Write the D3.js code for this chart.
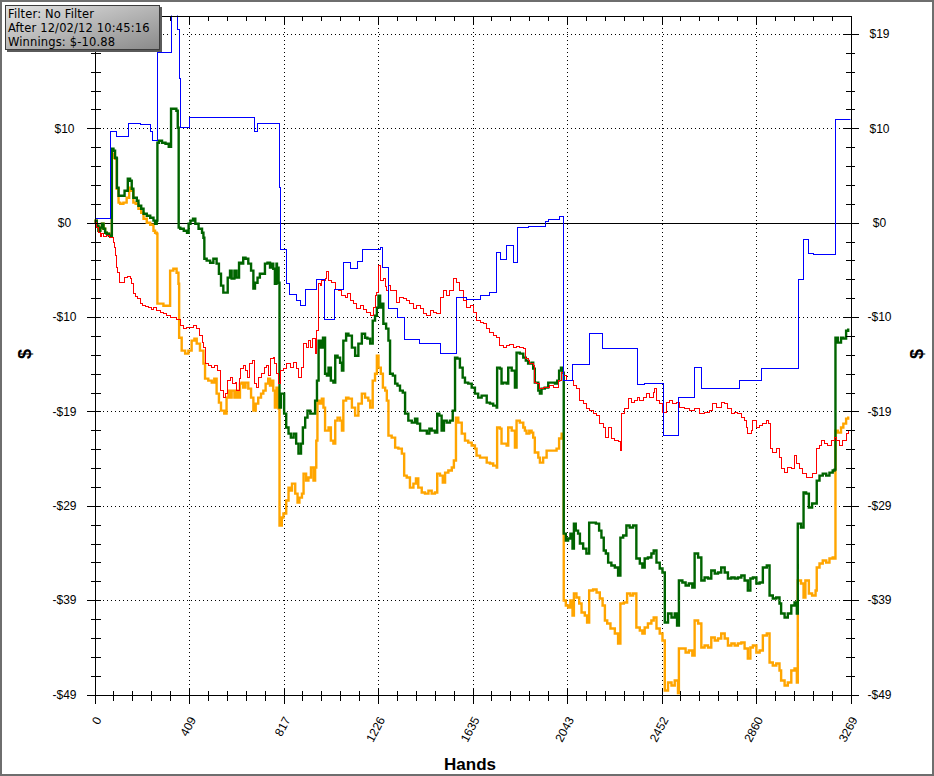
<!DOCTYPE html>
<html><head><meta charset="utf-8">
<script src="https://cdn.jsdelivr.net/npm/d3@7"></script>
<style>body{margin:0;background:#fff}svg{display:block}</style>
</head><body><svg id="c" width="934" height="776"></svg>
<script>
// ---------- DATA ----------
const xTickLabels = ["0","409","817","1226","1635","2043","2452","2860","3269"];
const yTickValues = [19.4, 9.7, 0, -9.7, -19.4, -29.1, -38.8, -48.5];
const yTickLabels = ["$19","$10","$0","-$10","-$19","-$29","-$39","-$49"];
const legendLines = ["Filter: No Filter","After 12/02/12 10:45:16","Winnings: $-10.88"];
const xTitle = "Hands";
const yTitle = "$";

// blue: showdown winnings  [hand, $]
const showdown = [[0,0.41],[69,9.35],[95,8.83],[147,10.17],[199,10.07],[242,9.35],[250,8.43],[272,17.47],[332,25],[358,19.83],[367,14.8],[371,9.76],[410,10.79],[691,9.35],[704,10.17],[799,3.6],[806,-2.77],[829,-6.27],[843,-7.40],[872,-8.01],[890,-8.53],[912,-6.88],[959,-5.86],[993,-9.97],[1036,-6.88],[1075,-4.11],[1108,-4.73],[1137,-4.01],[1157,-2.77],[1238,-2.57],[1247,-4.62],[1273,-8.84],[1310,-9.76],[1339,-12.02],[1405,-12.43],[1497,-13.46],[1566,-7.71],[1609,-7.91],[1667,-7.50],[1710,-7.19],[1739,-3.08],[1756,-3.80],[1782,-2.36],[1811,-4.11],[1828,-0.51],[1875,-0.41],[1952,0.10],[1962,0.31],[2012,0.62],[2029,-16.23],[2067,-14.59],[2139,-11.41],[2197,-12.95],[2346,-16.65],[2379,-16.54],[2461,-21.89],[2526,-17.98],[2595,-14.90],[2624,-17.06],[2789,-16.23],[2883,-15.00],[3045,-5.86],[3067,-1.75],[3087,-3.19],[3109,-3.29],[3204,10.58],[3269,10.58]];

// red: non-showdown winnings
const nonShowdown = [[0,0],[3,0.03],[9,-0.51],[17,-1.03],[25,-1.44],[30,-1.13],[39,-1.44],[52,-1.34],[63,-1.54],[73,-1.54],[82,-2.06],[86,-2.57],[92,-3.39],[96,-4.62],[101,-5.14],[107,-6.17],[117,-6.17],[130,-5.65],[144,-5.55],[154,-5.75],[161,-6.27],[168,-7.30],[176,-7.60],[187,-7.81],[197,-8.32],[207,-8.53],[219,-8.63],[233,-8.73],[245,-8.94],[255,-8.73],[269,-9.04],[284,-9.25],[298,-9.35],[312,-9.56],[327,-9.76],[341,-9.76],[355,-9.97],[370,-10.58],[384,-10.89],[399,-10.79],[413,-10.79],[427,-10.58],[442,-10.89],[456,-11.61],[466,-12.33],[471,-12.84],[478,-14.49],[492,-14.69],[507,-14.90],[521,-14.69],[532,-15.21],[543,-17.26],[557,-17.98],[567,-17.57],[576,-16.23],[586,-15.93],[596,-16.54],[608,-16.44],[614,-17.26],[625,-16.03],[633,-15.00],[643,-14.69],[651,-15.21],[662,-15.93],[672,-14.49],[682,-14.18],[694,-16.54],[701,-16.95],[711,-15.93],[722,-15.52],[734,-14.90],[744,-14.69],[751,-15.72],[763,-13.97],[773,-13.87],[780,-14.49],[789,-15.52],[796,-16.54],[806,-15.21],[817,-15.00],[832,-14.49],[846,-14.90],[861,-14.39],[872,-15.00],[882,-15.93],[893,-14.90],[904,-12.43],[915,-12.84],[925,-12.12],[936,-12.84],[944,-11.92],[954,-13.46],[962,-11.10],[969,-6.27],[976,-6.47],[983,-5.96],[997,-5.75],[1005,-5.03],[1012,-5.96],[1026,-6.17],[1041,-6.88],[1055,-6.99],[1070,-7.50],[1084,-7.71],[1094,-7.30],[1105,-8.01],[1120,-8.32],[1134,-8.84],[1149,-8.53],[1163,-8.94],[1178,-9.25],[1192,-9.56],[1206,-8.73],[1213,-7.50],[1221,-7.19],[1228,-4.42],[1235,-5.96],[1249,-5.75],[1257,-6.58],[1264,-6.99],[1271,-6.47],[1278,-6.99],[1292,-6.99],[1307,-8.22],[1321,-7.71],[1336,-7.81],[1350,-8.01],[1364,-8.32],[1379,-8.84],[1393,-8.53],[1408,-8.84],[1422,-9.35],[1437,-9.56],[1451,-9.04],[1465,-9.25],[1480,-9.35],[1494,-7.71],[1508,-6.99],[1523,-7.50],[1537,-6.99],[1551,-5.75],[1566,-6.17],[1580,-6.99],[1595,-8.01],[1609,-8.73],[1624,-8.53],[1638,-9.25],[1652,-10.07],[1667,-10.28],[1681,-10.38],[1696,-10.89],[1710,-11.30],[1724,-11.61],[1739,-11.82],[1753,-12.64],[1767,-12.84],[1782,-12.64],[1796,-12.54],[1811,-12.84],[1825,-12.74],[1839,-12.84],[1854,-12.95],[1865,-13.97],[1875,-14.18],[1883,-14.49],[1897,-14.69],[1904,-16.44],[1912,-16.54],[1926,-17.06],[1940,-16.95],[1955,-16.95],[1969,-16.75],[1983,-16.95],[1998,-16.95],[2005,-16.23],[2020,-15.41],[2029,-15.72],[2041,-16.23],[2063,-16.23],[2070,-16.75],[2084,-17.06],[2099,-18.29],[2113,-18.60],[2127,-19.11],[2142,-19.32],[2156,-19.63],[2171,-19.83],[2185,-20.65],[2199,-21.06],[2211,-22.09],[2221,-21.06],[2235,-22.19],[2250,-22.40],[2264,-22.50],[2274,-23.43],[2280,-19.63],[2293,-19.11],[2307,-18.08],[2322,-18.50],[2336,-18.29],[2346,-17.98],[2358,-18.29],[2372,-17.98],[2387,-17.57],[2401,-17.98],[2415,-17.47],[2422,-17.06],[2430,-18.29],[2444,-18.60],[2458,-19.52],[2473,-18.50],[2487,-18.29],[2501,-18.60],[2516,-18.50],[2530,-19.01],[2552,-19.11],[2574,-19.32],[2595,-19.11],[2617,-19.63],[2638,-19.52],[2660,-19.32],[2674,-18.60],[2689,-19.01],[2710,-18.50],[2725,-18.60],[2739,-19.11],[2754,-19.63],[2768,-19.52],[2782,-19.63],[2797,-20.04],[2811,-20.35],[2818,-21.06],[2825,-21.68],[2840,-21.37],[2847,-20.35],[2862,-21.06],[2876,-20.86],[2890,-20.65],[2905,-20.35],[2916,-20.65],[2922,-23.22],[2933,-23.63],[2948,-23.22],[2962,-24.15],[2969,-25.28],[2984,-25.69],[2998,-25.17],[3013,-25.28],[3027,-23.94],[3034,-24.76],[3049,-25.28],[3063,-25.79],[3077,-26.20],[3092,-26.20],[3106,-25.79],[3121,-23.22],[3135,-22.91],[3142,-22.40],[3156,-22.71],[3171,-22.91],[3185,-22.40],[3200,-22.09],[3210,-22.40],[3221,-22.91],[3236,-22.40],[3250,-21.68],[3261,-21.37],[3269,-21.37]];

// green: net won
const netWon = [[0,0],[3,0.21],[10,-0.31],[17,-0.82],[25,-0.51],[32,-0.10],[39,-0.62],[46,-1.03],[53,-1.13],[63,-1.34],[72,-1.34],[75,7.60],[82,7.40],[89,6.68],[96,6.58],[97,3.60],[104,2.77],[118,2.77],[130,3.29],[144,4.52],[154,4.32],[161,3.49],[168,2.57],[183,2.26],[190,1.75],[202,1.44],[212,0.92],[226,0.72],[241,0.51],[255,0.21],[262,-0.10],[269,0.21],[272,8.22],[278,8.43],[292,8.22],[307,8.12],[321,7.81],[331,11.71],[342,11.71],[354,11.51],[360,9.76],[364,-0.51],[371,-0.62],[386,-0.82],[400,-1.03],[407,-0.10],[415,0.21],[426,0.41],[436,-0.10],[450,-0.62],[465,-1.03],[471,-1.54],[475,-3.70],[485,-3.90],[500,-4.11],[514,-3.70],[528,-4.21],[538,-5.24],[547,-6.47],[557,-7.19],[567,-7.19],[576,-5.65],[586,-4.93],[593,-5.75],[605,-4.93],[614,-5.65],[625,-4.11],[633,-4.21],[643,-3.60],[653,-3.70],[665,-4.21],[677,-4.93],[687,-6.78],[694,-6.17],[705,-5.65],[715,-5.24],[725,-5.24],[737,-4.21],[748,-4.11],[759,-4.62],[766,-4.21],[773,-4.73],[780,-6.27],[787,-4.21],[789,-4.62],[796,-6.17],[800,-19.01],[806,-17.57],[815,-17.57],[820,-19.63],[829,-21.06],[839,-21.68],[849,-22.09],[861,-21.68],[872,-22.71],[882,-23.74],[893,-22.71],[901,-21.06],[911,-20.04],[921,-19.32],[933,-19.63],[944,-19.63],[954,-18.29],[962,-16.23],[969,-12.12],[979,-12.84],[988,-11.82],[997,-15.52],[1005,-15.72],[1012,-14.90],[1022,-16.23],[1033,-16.44],[1041,-13.67],[1051,-13.87],[1062,-14.39],[1070,-15.21],[1076,-12.12],[1088,-11.41],[1098,-11.61],[1113,-12.84],[1127,-13.67],[1141,-12.43],[1156,-11.41],[1170,-11.82],[1180,-11.92],[1192,-12.43],[1203,-10.07],[1213,-9.56],[1221,-8.73],[1228,-7.50],[1235,-8.73],[1242,-8.32],[1249,-10.38],[1261,-10.89],[1271,-12.12],[1278,-15.52],[1290,-15.72],[1300,-16.54],[1310,-16.75],[1321,-17.26],[1333,-17.47],[1343,-19.63],[1357,-20.35],[1372,-20.55],[1386,-20.14],[1396,-20.65],[1408,-21.37],[1422,-21.37],[1437,-21.68],[1448,-21.17],[1458,-21.37],[1472,-21.58],[1482,-19.63],[1491,-19.83],[1501,-21.37],[1511,-20.35],[1523,-20.55],[1537,-20.35],[1549,-19.32],[1559,-13.87],[1569,-13.97],[1580,-14.90],[1592,-15.93],[1602,-16.44],[1616,-16.54],[1631,-16.95],[1645,-17.57],[1659,-17.98],[1674,-17.78],[1688,-17.78],[1696,-18.50],[1710,-18.60],[1724,-18.80],[1739,-19.01],[1741,-14.90],[1753,-15.00],[1760,-16.54],[1767,-16.44],[1782,-16.54],[1789,-14.90],[1804,-15.21],[1818,-16.95],[1825,-13.36],[1839,-13.46],[1854,-13.87],[1865,-14.18],[1875,-14.49],[1890,-14.39],[1897,-15.00],[1904,-16.44],[1919,-17.26],[1926,-17.57],[1933,-17.06],[1947,-16.95],[1962,-16.44],[1976,-16.44],[1991,-16.54],[2001,-16.23],[2009,-15.21],[2017,-14.90],[2024,-15.41],[2029,-31.96],[2038,-32.67],[2048,-32.47],[2058,-31.96],[2067,-33.50],[2073,-30.93],[2081,-31.65],[2091,-31.96],[2099,-32.98],[2113,-33.50],[2127,-34.01],[2139,-30.83],[2153,-30.83],[2168,-30.93],[2182,-31.65],[2192,-32.37],[2202,-33.70],[2211,-34.01],[2221,-34.94],[2235,-35.24],[2250,-35.45],[2264,-36.27],[2274,-32.37],[2286,-32.16],[2300,-31.13],[2314,-31.34],[2329,-31.13],[2343,-34.52],[2358,-35.04],[2369,-35.45],[2379,-34.52],[2393,-34.42],[2408,-34.01],[2418,-33.70],[2430,-34.94],[2444,-35.55],[2456,-35.96],[2466,-41.10],[2480,-40.18],[2495,-40.59],[2509,-40.18],[2519,-41.41],[2527,-36.78],[2542,-36.99],[2556,-37.30],[2570,-37.09],[2585,-37.50],[2595,-34.01],[2610,-34.42],[2624,-36.78],[2638,-36.48],[2653,-36.58],[2667,-35.76],[2682,-36.07],[2696,-35.96],[2710,-35.45],[2725,-35.96],[2739,-36.58],[2754,-36.48],[2768,-36.58],[2782,-36.48],[2797,-36.27],[2811,-36.78],[2825,-37.81],[2836,-36.58],[2847,-36.48],[2862,-37.09],[2876,-36.99],[2890,-35.45],[2907,-35.24],[2919,-38.33],[2933,-38.63],[2948,-38.53],[2962,-39.15],[2969,-40.18],[2984,-40.59],[2998,-40.18],[3013,-39.35],[3027,-39.05],[3037,-40.18],[3041,-30.93],[3055,-31.34],[3066,-27.74],[3077,-27.85],[3089,-29.28],[3103,-28.87],[3118,-28.87],[3123,-26.51],[3135,-26.00],[3149,-25.79],[3164,-26.00],[3178,-25.69],[3192,-25.48],[3200,-25.38],[3204,-11.82],[3214,-12.33],[3228,-11.82],[3238,-11.92],[3250,-11.10],[3259,-10.88]];

// orange: all-in adjusted EV
const allInEV = [[0,0],[3,0.21],[10,-0.31],[17,-0.82],[25,-0.51],[32,-0.10],[39,-0.62],[46,-1.03],[53,-1.13],[63,-1.34],[72,-1.34],[75,7.09],[82,6.68],[89,6.58],[96,3.49],[104,2.06],[111,1.95],[125,2.06],[139,2.57],[150,3.60],[158,3.29],[168,2.06],[178,1.95],[190,1.44],[202,1.03],[212,0.41],[226,0.00],[241,-0.21],[255,-0.82],[262,-1.03],[269,-1.13],[272,-8.32],[284,-8.32],[298,-8.53],[312,-8.53],[327,-4.93],[341,-4.73],[355,-5.14],[363,-6.27],[366,-11.82],[377,-13.15],[392,-13.46],[406,-13.15],[420,-12.12],[432,-11.92],[442,-12.43],[456,-13.15],[471,-14.49],[478,-16.03],[492,-16.23],[507,-16.44],[518,-16.03],[528,-17.57],[538,-18.50],[547,-19.32],[561,-19.63],[571,-17.98],[579,-17.26],[586,-17.98],[593,-17.26],[605,-17.98],[610,-17.26],[619,-17.98],[629,-16.54],[636,-16.44],[643,-16.95],[653,-16.44],[665,-17.06],[677,-17.98],[687,-19.32],[697,-18.60],[708,-17.98],[720,-17.57],[730,-17.26],[740,-16.54],[751,-16.03],[759,-16.75],[766,-16.23],[773,-17.26],[780,-19.01],[787,-16.95],[796,-19.11],[800,-31.13],[810,-30.31],[817,-29.90],[825,-29.90],[829,-28.56],[839,-27.23],[846,-27.54],[854,-26.82],[861,-26.82],[868,-27.85],[878,-28.77],[886,-28.26],[897,-27.85],[904,-25.79],[915,-26.51],[925,-26.20],[936,-25.17],[947,-26.51],[954,-25.17],[959,-22.40],[964,-18.29],[973,-18.60],[983,-18.08],[990,-19.01],[997,-21.37],[1005,-21.37],[1012,-21.06],[1022,-22.40],[1033,-22.71],[1041,-20.35],[1051,-20.04],[1062,-20.35],[1070,-21.37],[1076,-18.29],[1088,-17.98],[1098,-18.08],[1113,-19.01],[1127,-19.83],[1141,-18.60],[1156,-17.57],[1170,-17.98],[1184,-18.29],[1192,-19.01],[1203,-16.23],[1213,-15.52],[1221,-13.67],[1228,-14.90],[1238,-15.52],[1247,-16.95],[1257,-17.26],[1264,-18.29],[1271,-21.89],[1285,-22.09],[1300,-23.12],[1314,-23.22],[1329,-23.74],[1339,-26.00],[1350,-26.20],[1364,-27.23],[1379,-26.82],[1390,-26.30],[1400,-27.23],[1415,-27.74],[1429,-27.85],[1444,-27.54],[1458,-27.85],[1472,-27.74],[1482,-25.79],[1494,-26.00],[1506,-26.72],[1516,-25.69],[1530,-25.48],[1545,-25.17],[1554,-24.45],[1563,-20.04],[1573,-20.55],[1588,-21.68],[1602,-22.40],[1616,-22.61],[1631,-22.91],[1645,-23.22],[1652,-23.94],[1667,-24.15],[1681,-24.15],[1696,-24.66],[1710,-24.76],[1724,-24.97],[1739,-25.17],[1741,-21.06],[1753,-21.17],[1760,-22.71],[1782,-22.91],[1789,-21.06],[1804,-21.37],[1818,-23.12],[1825,-20.35],[1839,-20.55],[1854,-21.06],[1861,-21.37],[1868,-21.68],[1880,-21.37],[1890,-21.58],[1897,-22.09],[1904,-23.63],[1919,-24.15],[1926,-24.66],[1940,-24.15],[1955,-23.43],[1969,-23.43],[1983,-23.43],[1998,-23.22],[2009,-22.19],[2020,-21.68],[2027,-22.19],[2029,-38.84],[2038,-39.35],[2048,-39.56],[2058,-38.84],[2067,-40.38],[2073,-38.12],[2084,-38.53],[2096,-39.15],[2106,-40.07],[2120,-40.38],[2130,-41.10],[2139,-37.81],[2156,-37.71],[2171,-38.02],[2185,-38.63],[2197,-39.35],[2207,-40.90],[2217,-41.20],[2231,-41.72],[2250,-42.23],[2264,-43.26],[2274,-39.15],[2289,-39.05],[2303,-38.12],[2317,-38.33],[2329,-38.12],[2343,-41.61],[2358,-41.92],[2369,-42.23],[2379,-41.61],[2393,-41.20],[2408,-40.90],[2418,-40.59],[2430,-41.72],[2444,-42.23],[2456,-42.95],[2466,-48.09],[2480,-47.27],[2495,-47.57],[2509,-47.06],[2523,-48.39],[2527,-43.77],[2542,-43.77],[2556,-44.18],[2570,-43.98],[2585,-44.49],[2595,-40.90],[2610,-41.20],[2624,-43.67],[2638,-43.46],[2653,-43.67],[2667,-42.64],[2682,-42.95],[2696,-42.74],[2710,-42.23],[2725,-42.74],[2739,-43.46],[2754,-43.26],[2768,-43.46],[2782,-43.26],[2797,-43.16],[2811,-43.77],[2825,-44.80],[2836,-43.67],[2847,-43.46],[2862,-44.18],[2876,-43.98],[2890,-42.43],[2907,-42.23],[2919,-45.21],[2933,-45.52],[2948,-45.31],[2962,-46.03],[2969,-47.06],[2984,-47.57],[2998,-47.27],[3013,-46.03],[3027,-45.83],[3037,-47.27],[3041,-36.78],[3055,-37.09],[3066,-38.53],[3074,-36.78],[3089,-38.12],[3103,-38.33],[3118,-37.81],[3123,-35.45],[3135,-35.04],[3149,-34.73],[3164,-34.94],[3178,-34.52],[3192,-34.42],[3200,-34.52],[3204,-21.37],[3214,-21.58],[3228,-21.06],[3238,-20.65],[3250,-20.14],[3259,-19.93]];

// ---------- CHART ----------
const W = 934, H = 776;
const L = 94.5, R = 850.5, T = 15.5, B = 694.5;
const xMax = 3269;
const x = d3.scaleLinear().domain([0, xMax]).range([L, R]);
const y = d3.scaleLinear().domain([-48.5, 21.3]).range([B, T]);

const xMajor = xTickLabels.map((_, i) => i * xMax / 8);
const xMinor = d3.range(0, 41).map(i => i * xMax / 40).filter((_, i) => i % 5 !== 0);
const yMinor = d3.range(0, 37).map(i => -48.5 + i * 1.94).filter((_, i) => i % 5 !== 0 && -48.5 + i*1.94 <= 21.3);

const svg = d3.select("#c");
svg.append("rect").attr("width", W).attr("height", H).attr("fill", "#fff");

const font = "'Liberation Sans', Arial, sans-serif";

// grid lines
const grid = svg.append("g").attr("shape-rendering", "crispEdges");
grid.selectAll("line.h").data(yTickValues.filter((v, i) => i !== 2 && i !== yTickValues.length - 1))
  .join("line").attr("x1", L).attr("x2", R).attr("y1", d => Math.round(y(d)) + 0.5).attr("y2", d => Math.round(y(d)) + 0.5)
  .attr("stroke", "#000").attr("stroke-dasharray", "1,3");
grid.selectAll("line.v").data(xMajor.slice(1, -1))
  .join("line").attr("y1", T).attr("y2", B).attr("x1", d => Math.round(x(d)) + 0.5).attr("x2", d => Math.round(x(d)) + 0.5)
  .attr("stroke", "#000").attr("stroke-dasharray", "1,3");
// zero line
svg.append("line").attr("x1", L).attr("x2", R + 8).attr("y1", Math.round(y(0)) + 0.5).attr("y2", Math.round(y(0)) + 0.5)
  .attr("stroke", "#000").attr("shape-rendering", "crispEdges");

// series
svg.append("clipPath").attr("id", "clip").append("rect").attr("x", L).attr("y", T).attr("width", R - L).attr("height", B - T);
const line = d3.line().x(d => x(d[0])).y(d => y(d[1])).curve(d3.curveStepAfter);
const plot = svg.append("g").attr("clip-path", "url(#clip)");
const series = [
  {data: allInEV, color: "#FFA500", w: 2.4},
  {data: netWon, color: "#006400", w: 2.4},
  {data: nonShowdown, color: "#FF0000", w: 1},
  {data: showdown, color: "#0000FF", w: 1}
];
series.forEach(s => {
  plot.append("path").datum(s.data).attr("d", line).attr("fill", "none")
    .attr("stroke", s.color).attr("stroke-width", s.w)
    .attr("shape-rendering", s.w === 1 ? "crispEdges" : "auto");
});

function styleAxis(g) {
  g.attr("font-family", font).attr("font-size", 12);
  g.selectAll("line").attr("stroke", "#000").attr("shape-rendering", "crispEdges");
  g.selectAll("path.domain").attr("stroke", "#000").attr("shape-rendering", "crispEdges");
  g.selectAll("text").attr("fill", "#000");
}

// left axis (its top label sits under the filter box, as in the original)
const gl = svg.append("g").attr("transform", `translate(${L},0)`)
  .call(d3.axisLeft(y).tickValues(yTickValues).tickFormat((d, i) => i === 0 ? "" : yTickLabels[i]).tickSizeInner(8).tickSizeOuter(0));
gl.call(styleAxis);
gl.selectAll(".tick line").attr("x1", 6).attr("x2", -8);
gl.selectAll(".tick text").attr("x", -30).attr("text-anchor", "middle");
const glm = svg.append("g").attr("transform", `translate(${L},0)`)
  .call(d3.axisLeft(y).tickValues(yMinor).tickFormat("").tickSize(4).tickSizeOuter(0));
glm.call(styleAxis); glm.select(".domain").remove();
glm.selectAll(".tick line").attr("x1", 6).attr("x2", -4);

// right axis
const gr = svg.append("g").attr("transform", `translate(${R},0)`)
  .call(d3.axisRight(y).tickValues(yTickValues).tickFormat((d, i) => yTickLabels[i]).tickSizeInner(8).tickSizeOuter(0));
gr.call(styleAxis);
gr.selectAll(".tick line").attr("x1", -8).attr("x2", 8);
gr.selectAll(".tick text").attr("x", 29).attr("text-anchor", "middle");
const grm = svg.append("g").attr("transform", `translate(${R},0)`)
  .call(d3.axisRight(y).tickValues(yMinor).tickFormat("").tickSize(4).tickSizeOuter(0));
grm.call(styleAxis); grm.select(".domain").remove();
grm.selectAll(".tick line").attr("x1", -5).attr("x2", 4);

// bottom axis
const gb = svg.append("g").attr("transform", `translate(0,${B})`)
  .call(d3.axisBottom(x).tickValues(xMajor).tickFormat((d, i) => xTickLabels[i]).tickSizeInner(9).tickSizeOuter(0));
gb.call(styleAxis);
gb.selectAll(".tick line").attr("y1", -6).attr("y2", 9);
gb.selectAll(".tick text").attr("x", 0).attr("y", 0).attr("dy", 0).attr("text-anchor", "end")
  .attr("transform", "translate(7,25) rotate(-62)");
const gbm = svg.append("g").attr("transform", `translate(0,${B})`)
  .call(d3.axisBottom(x).tickValues(xMinor).tickFormat("").tickSize(6).tickSizeOuter(0));
gbm.call(styleAxis); gbm.select(".domain").remove();
gbm.selectAll(".tick line").attr("y1", -4).attr("y2", 6);

// top frame axis
const gt = svg.append("g").attr("transform", `translate(0,${T})`)
  .call(d3.axisBottom(x).tickValues(xMajor).tickFormat("").tickSize(8).tickSizeOuter(0));
gt.call(styleAxis);
const gtm = svg.append("g").attr("transform", `translate(0,${T})`)
  .call(d3.axisBottom(x).tickValues(xMinor).tickFormat("").tickSize(5).tickSizeOuter(0));
gtm.call(styleAxis); gtm.select(".domain").remove();

// titles
svg.append("text").attr("x", 470).attr("y", 770).attr("text-anchor", "middle")
  .attr("font-family", font).attr("font-weight", "bold").attr("font-size", 17).text(xTitle);
[25, 917].forEach(cx => {
  svg.append("text").attr("transform", `translate(${cx},354) rotate(-90)`).attr("text-anchor", "middle")
    .attr("dy", "0.35em").attr("font-family", font).attr("font-weight", "bold").attr("font-size", 18).text(yTitle);
});

// legend box
const defs = svg.append("defs");
const grad = defs.append("linearGradient").attr("id", "lg").attr("x1", "0").attr("y1", "0").attr("x2", "1").attr("y2", "1");
grad.append("stop").attr("offset", "0%").attr("stop-color", "#e2e2e2");
grad.append("stop").attr("offset", "100%").attr("stop-color", "#8a8a8a");
svg.append("rect").attr("x", 7).attr("y", 7).attr("width", 155).attr("height", 45).attr("fill", "#5a5a5a");
svg.append("rect").attr("x", 5.5).attr("y", 5.5).attr("width", 154).attr("height", 44)
  .attr("fill", "url(#lg)").attr("stroke", "#3c3c3c").attr("shape-rendering", "crispEdges");
svg.append("g").selectAll("text").data(legendLines).join("text")
  .attr("x", 8).attr("y", (d, i) => 17.5 + i * 14.3)
  .attr("font-family", "'DejaVu Sans', Verdana, sans-serif").attr("font-size", 11.5)
  .attr("letter-spacing", 0.15).attr("fill", "#000").text(d => d);

// outer frame
svg.append("rect").attr("x", 1).attr("y", 1).attr("width", W - 2).attr("height", H - 2)
  .attr("fill", "none").attr("stroke", "#6e6e6e").attr("stroke-width", 2);
</script></body></html>
